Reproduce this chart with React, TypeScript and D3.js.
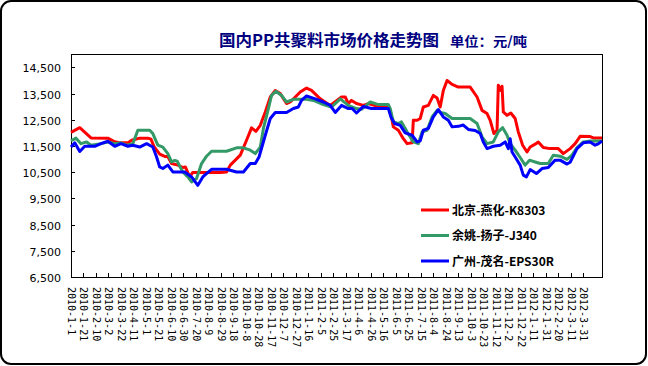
import * as d3 from "d3";
import { useEffect, useRef } from "react";

// 北京-燕化-K8303
const beijing: [string, number][] = [
  ["2010-01-01", 12020], ["2010-01-15", 12200], ["2010-02-02", 11810], ["2010-03-01", 11800],
  ["2010-03-12", 11660], ["2010-03-22", 11620], ["2010-04-02", 11620], ["2010-04-08", 11720],
  ["2010-04-21", 11800], ["2010-05-04", 11800], ["2010-05-09", 11760], ["2010-05-14", 11470],
  ["2010-05-23", 11190], ["2010-05-31", 11100], ["2010-06-05", 11100], ["2010-06-11", 10830],
  ["2010-06-21", 10770], ["2010-06-29", 10680], ["2010-07-03", 10700], ["2010-07-10", 10320],
  ["2010-07-15", 10490], ["2010-08-28", 10490], ["2010-09-07", 10510], ["2010-09-13", 10770],
  ["2010-09-29", 11150], ["2010-10-09", 11720], ["2010-10-17", 12190], ["2010-10-24", 12060],
  ["2010-10-31", 12290], ["2010-11-08", 12800], ["2010-11-16", 13370], ["2010-11-24", 13620],
  ["2010-12-02", 13500], ["2010-12-12", 13120], ["2010-12-18", 13180], ["2011-01-03", 13560],
  ["2011-01-13", 13710], ["2011-01-21", 13620], ["2011-02-04", 13300], ["2011-02-20", 13050],
  ["2011-03-10", 13370], ["2011-03-16", 13370], ["2011-03-21", 13120], ["2011-03-26", 13240],
  ["2011-04-03", 13120], ["2011-04-14", 13050], ["2011-04-22", 13120], ["2011-05-08", 13010],
  ["2011-05-24", 13010], ["2011-05-27", 12860], ["2011-06-01", 12230], ["2011-06-09", 12100],
  ["2011-06-17", 11780], ["2011-06-23", 11590], ["2011-07-01", 11620], ["2011-07-03", 12480],
  ["2011-07-09", 12480], ["2011-07-14", 12550], ["2011-07-19", 12990], ["2011-07-27", 13050],
  ["2011-08-04", 13430], ["2011-08-10", 13330], ["2011-08-15", 12990], ["2011-08-20", 13620],
  ["2011-08-26", 14000], ["2011-09-03", 13850], ["2011-09-13", 13750], ["2011-10-02", 13750],
  ["2011-10-13", 13370], ["2011-10-21", 12860], ["2011-10-29", 12740], ["2011-11-03", 12480],
  ["2011-11-09", 11975], ["2011-11-14", 12100], ["2011-11-16", 13820], ["2011-11-20", 13620],
  ["2011-11-22", 13780], ["2011-11-24", 12800], ["2011-11-30", 12670], ["2011-12-06", 12760],
  ["2011-12-13", 12550], ["2011-12-18", 12040], ["2011-12-25", 11530], ["2012-01-01", 11270],
  ["2012-01-06", 11460], ["2012-01-14", 11570], ["2012-01-19", 11655], ["2012-01-27", 11440],
  ["2012-02-07", 11400], ["2012-02-20", 11400], ["2012-02-28", 11210], ["2012-03-10", 11400],
  ["2012-03-18", 11590], ["2012-03-26", 11870], ["2012-04-11", 11860], ["2012-04-16", 11810],
  ["2012-04-30", 11810],
];

// 余姚-扬子-J340
const yuyao: [string, number][] = [
  ["2010-01-01", 11700], ["2010-01-09", 11800], ["2010-01-17", 11590], ["2010-01-26", 11655],
  ["2010-02-02", 11530], ["2010-02-18", 11590], ["2010-03-01", 11655], ["2010-03-12", 11590],
  ["2010-03-22", 11620], ["2010-03-31", 11530], ["2010-04-10", 11590], ["2010-04-18", 12100],
  ["2010-05-07", 12100], ["2010-05-12", 11975], ["2010-05-20", 11530], ["2010-05-28", 11460],
  ["2010-06-05", 11210], ["2010-06-11", 10890], ["2010-06-16", 10950], ["2010-06-20", 10920],
  ["2010-06-29", 10510], ["2010-07-07", 10320], ["2010-07-13", 10130], ["2010-07-21", 10260],
  ["2010-07-29", 10830], ["2010-08-06", 11110], ["2010-08-14", 11300], ["2010-09-07", 11300],
  ["2010-09-23", 11430], ["2010-10-04", 11430], ["2010-10-15", 11340], ["2010-10-23", 11210],
  ["2010-10-31", 11460], ["2010-11-05", 12170], ["2010-11-13", 12930], ["2010-11-18", 13430],
  ["2010-11-25", 13590], ["2010-12-04", 13430], ["2010-12-12", 13180], ["2010-12-23", 13280],
  ["2011-01-13", 13280], ["2011-01-24", 13240], ["2011-02-09", 13080], ["2011-02-22", 12990],
  ["2011-02-28", 13120], ["2011-03-08", 13300], ["2011-03-21", 13050], ["2011-04-03", 12930],
  ["2011-04-11", 12900], ["2011-04-25", 13180], ["2011-05-08", 13080], ["2011-05-24", 13080],
  ["2011-05-27", 12930], ["2011-06-01", 12420], ["2011-06-09", 12360], ["2011-06-14", 12420],
  ["2011-06-23", 12040], ["2011-07-03", 11655], ["2011-07-11", 11590], ["2011-07-17", 12040],
  ["2011-07-25", 12100], ["2011-08-02", 12610], ["2011-08-10", 12860], ["2011-08-15", 12780],
  ["2011-08-23", 12740], ["2011-09-03", 12550], ["2011-10-02", 12550], ["2011-10-13", 12360],
  ["2011-10-21", 11850], ["2011-10-29", 11590], ["2011-11-08", 11655], ["2011-11-16", 12040],
  ["2011-11-23", 12200], ["2011-11-30", 11910], ["2011-12-05", 11590], ["2011-12-13", 11340],
  ["2011-12-21", 11060], ["2011-12-29", 10770], ["2012-01-05", 10960], ["2012-01-14", 10890],
  ["2012-01-22", 10830], ["2012-02-04", 10830], ["2012-02-12", 11150], ["2012-02-23", 11110],
  ["2012-03-05", 10990], ["2012-03-13", 11150], ["2012-03-21", 11440], ["2012-03-31", 11655],
  ["2012-04-11", 11690], ["2012-04-30", 11690],
];

// 广州-茂名-EPS30R
const guangzhou: [string, number][] = [
  ["2010-01-01", 11460], ["2010-01-07", 11620], ["2010-01-15", 11290], ["2010-01-23", 11490],
  ["2010-02-08", 11490], ["2010-02-18", 11590], ["2010-03-01", 11680], ["2010-03-12", 11490],
  ["2010-03-22", 11590], ["2010-04-02", 11490], ["2010-04-10", 11530], ["2010-04-21", 11460],
  ["2010-05-02", 11590], ["2010-05-12", 11460], ["2010-05-18", 11080], ["2010-05-23", 10700],
  ["2010-05-28", 10640], ["2010-06-05", 10770], ["2010-06-13", 10510], ["2010-07-02", 10510],
  ["2010-07-13", 10320], ["2010-07-23", 10000], ["2010-07-31", 10320], ["2010-08-04", 10410],
  ["2010-08-14", 10610], ["2010-09-07", 10610], ["2010-09-23", 10510], ["2010-10-04", 10510],
  ["2010-10-15", 10830], ["2010-10-23", 10830], ["2010-10-29", 11080], ["2010-11-08", 11910],
  ["2010-11-16", 12550], ["2010-11-24", 12780], ["2010-12-12", 12780], ["2010-12-23", 12930],
  ["2010-12-31", 12990], ["2011-01-05", 13240], ["2011-01-13", 13410], ["2011-01-27", 13300],
  ["2011-02-09", 13180], ["2011-02-20", 13050], ["2011-02-28", 12780], ["2011-03-10", 13050],
  ["2011-03-21", 12930], ["2011-03-27", 12930], ["2011-04-03", 12760], ["2011-04-14", 13010],
  ["2011-04-27", 12930], ["2011-05-24", 12930], ["2011-05-28", 12610], ["2011-06-03", 12360],
  ["2011-06-12", 12290], ["2011-06-20", 12000], ["2011-07-01", 11910], ["2011-07-09", 11655],
  ["2011-07-14", 11700], ["2011-07-19", 12100], ["2011-07-27", 12170], ["2011-08-04", 12610],
  ["2011-08-12", 12890], ["2011-08-20", 12610], ["2011-08-28", 12480], ["2011-09-03", 12230],
  ["2011-09-13", 12250], ["2011-09-21", 12300], ["2011-09-29", 12130], ["2011-10-10", 12090],
  ["2011-10-18", 11975], ["2011-10-23", 11655], ["2011-10-29", 11400], ["2011-11-08", 11490],
  ["2011-11-19", 11530], ["2011-11-27", 11655], ["2011-12-02", 11400], ["2011-12-05", 11780],
  ["2011-12-08", 11270], ["2011-12-13", 11080], ["2011-12-21", 10770], ["2011-12-26", 10390],
  ["2011-12-31", 10320], ["2012-01-06", 10600], ["2012-01-16", 10450], ["2012-01-25", 10640],
  ["2012-02-04", 10680], ["2012-02-15", 10960], ["2012-02-23", 10960], ["2012-03-05", 10810],
  ["2012-03-10", 10880], ["2012-03-21", 11400], ["2012-03-31", 11620], ["2012-04-11", 11655],
  ["2012-04-19", 11530], ["2012-04-24", 11580], ["2012-04-30", 11690],
];

const seriesNames = ["北京-燕化-K8303", "余姚-扬子-J340", "广州-茂名-EPS30R"];
const seriesColors = ["#ff0000", "#339966", "#0000ff"];
const yTicks = [6500, 7500, 8500, 9500, 10500, 11500, 12500, 13500, 14500];
const xStart = "2010-01-01";
const xEnd = "2012-04-30";
const labelStepDays = 20;
const labelCount = 42;

const W = 648;
const H = 366;

export default function App() {
  const svgRef = useRef<SVGSVGElement>(null);

  useEffect(() => {
    if (!svgRef.current) return;
    const svg = d3.select(svgRef.current);
    svg.selectAll("*").remove();

    const parse = d3.timeParse("%Y-%m-%d");
    const left = 71;
    const right = 602;
    const top = 54;
    const bottom = 277;

    const x = d3
      .scaleTime()
      .domain([parse(xStart)!, parse(xEnd)!])
      .range([left, right]);
    const y = d3.scaleLinear().domain([6500, 15000]).range([bottom, top + 0.3]);

    // outer frame
    svg
      .append("rect")
      .attr("x", 1)
      .attr("y", 1)
      .attr("width", W - 3)
      .attr("height", H - 3)
      .attr("rx", 10)
      .attr("fill", "#fff")
      .attr("stroke", "#000")
      .attr("stroke-width", 2);

    // title
    svg
      .append("text")
      .attr("x", 219)
      .attr("y", 46)
      .attr("textLength", 220)
      .attr("lengthAdjust", "spacingAndGlyphs")
      .style("fill", "#000080")
      .style("font-family", "'Noto Sans CJK SC', sans-serif")
      .style("font-weight", "bold")
      .style("font-size", "16px")
      .text("国内PP共聚料市场价格走势图");
    svg
      .append("text")
      .attr("x", 450)
      .attr("y", 46)
      .attr("textLength", 77)
      .attr("lengthAdjust", "spacingAndGlyphs")
      .style("fill", "#000080")
      .style("font-family", "'Noto Sans CJK SC', sans-serif")
      .style("font-weight", "bold")
      .style("font-size", "13px")
      .text("单位：元/吨");

    // plot box
    svg
      .append("rect")
      .attr("x", left + 0.5)
      .attr("y", top + 0.5)
      .attr("width", right - left)
      .attr("height", bottom - top)
      .attr("fill", "none")
      .attr("stroke", "#000")
      .attr("stroke-width", 1);

    // y axis ticks (inside) and labels
    const yg = svg.append("g");
    yTicks.forEach((v) => {
      const yy = Math.round(y(v)) + 0.5;
      yg.append("line")
        .attr("x1", left)
        .attr("x2", left + 4)
        .attr("y1", yy)
        .attr("y2", yy)
        .attr("stroke", "#000");
      yg.append("text")
        .attr("x", 61)
        .attr("y", yy + 4)
        .attr("text-anchor", "end")
        .style("font-family", "'DejaVu Sans', sans-serif")
        .style("font-size", "11px")
        .style("fill", "#000")
        .text(d3.format(",")(v));
    });

    // x axis ticks and rotated labels
    const start = parse(xStart)!;
    const labelDates = d3.range(labelCount).map((i) => d3.timeDay.offset(start, i * labelStepDays));
    const fmt = d3.timeFormat("%Y-%-m-%-d");
    const xg = svg.append("g");
    labelDates.forEach((d) => {
      const xx = Math.round(x(d)) + 0.5;
      xg.append("line")
        .attr("x1", xx)
        .attr("x2", xx)
        .attr("y1", bottom)
        .attr("y2", bottom - 4)
        .attr("stroke", "#000");
      xg.append("text")
        .attr("transform", `translate(${xx - 3.5},${bottom + 10}) rotate(90)`)
        .style("font-family", "'DejaVu Sans Mono', monospace")
        .style("font-size", "10px")
        .style("fill", "#000")
        .text(fmt(d));
    });

    // lines
    const line = d3
      .line<[string, number]>()
      .x((d) => x(parse(d[0])!))
      .y((d) => y(d[1]));
    [beijing, yuyao, guangzhou].forEach((data, i) => {
      svg
        .append("path")
        .datum(data)
        .attr("d", line)
        .attr("fill", "none")
        .attr("stroke", seriesColors[i])
        .attr("stroke-width", 3)
        .attr("stroke-linejoin", "round");
    });

    // legend
    const legend = svg.append("g");
    seriesNames.forEach((name, i) => {
      const ly = 210 + i * 25.5;
      legend
        .append("line")
        .attr("x1", 421)
        .attr("x2", 449)
        .attr("y1", ly)
        .attr("y2", ly)
        .attr("stroke", seriesColors[i])
        .attr("stroke-width", 3);
      legend
        .append("text")
        .attr("x", 452)
        .attr("y", ly + 4.5)
        .style("font-family", "'Noto Sans CJK SC', sans-serif")
        .style("font-size", "12px")
        .style("font-weight", "bold")
        .style("fill", "#000")
        .text(name);
    });
  }, []);

  return (
    <svg
      ref={svgRef}
      width={W}
      height={H}
      style={{ position: "absolute", left: 0, top: 0, background: "#fff" }}
    />
  );
}
